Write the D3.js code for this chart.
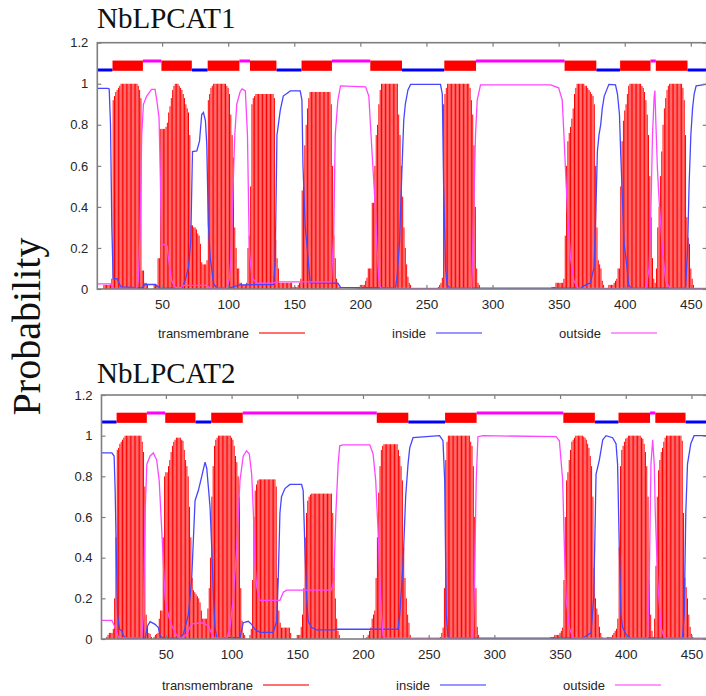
<!DOCTYPE html>
<html>
<head>
<meta charset="utf-8">
<script src="https://cdn.jsdelivr.net/npm/d3@7"></script>
<style>
  body { margin: 0; background: #fff; }
  svg { display: block; }
</style>
</head>
<body>
<svg id="chart" width="706" height="696"></svg>
<script>
// ---- TMHMM posterior probabilities for the two LPCAT proteins ----
const residueCount = 462;
const panelTitles = ["NbLPCAT1", "NbLPCAT2"];
const xTickValues = [50, 100, 150, 200, 250, 300, 350, 400, 450];
const yTickValues = [0, 0.2, 0.4, 0.6, 0.8, 1, 1.2];
const legendLabels = ["transmembrane", "inside", "outside"];
const axisLabel = "Probability";

// predicted topology: i = inside, M = transmembrane helix, o = outside
const topology1 = [["i",1,12],["M",13,35],["o",36,49],["M",50,72],["i",73,84],["M",85,108],
  ["o",109,116],["M",117,136],["i",137,155],["M",156,178],["o",179,207],["M",208,231],
  ["i",232,263],["M",264,287],["o",288,354],["M",355,378],["i",379,396],["M",397,419],
  ["o",420,423],["M",424,447],["i",448,462]];
const topology2 = [["i",1,12],["M",13,35],["o",36,49],["M",50,72],["i",73,84],["M",85,108],
  ["o",109,210],["M",211,234],["i",235,262],["M",263,286],["o",287,352],["M",353,376],
  ["i",377,394],["M",395,418],["o",419,422],["M",423,445],["i",446,462]];

// transmembrane probability per residue: [first residue, values...]
const tmProb1 = [
  [6, [0.02,0.02,0.02,0.02,0.02,0.02,0.05,0.92,0.94,0.96,0.97,0.98,0.99,1,1,1,1,1,1,1,1,1,1,1,1,1,0.99,0.97,0.93,0.09,0.09,0.03,0.03,0.02]],
  [44, [0.02,0.02,0.02,0.15,0.15,0.78,0.78,0.78,0.78,0.79,0.81,0.86,0.89,0.93,0.97,0.99,1,1,1,0.99,0.98,0.97,0.95,0.93,0.9,0.88,0.86,0.75,0.31,0.31,0.3,0.3,0.29,0.27,0.26,0.22,0.13,0.12,0.12,0.12]],
  [84, [0.14,0.92,0.95,0.98,0.99,1,1,1,1,1,1,1,1,1,1,0.99,0.98,0.95,0.85,0.75,0.64,0.3,0.2,0.1,0.1,0.03,0.03]],
  [111, [0.02,0.02,0.02,0.03,0.2,0.26,0.5,0.9,0.93,0.94,0.95,0.95,0.95,0.95,0.95,0.95,0.95,0.95,0.95,0.95,0.95,0.95,0.95,0.95,0.93,0.24,0.15,0.1,0.03,0.03]],
  [141, [0.03,0.03,0.03,0.03,0.03,0.03,0.03,0.03,0.01,0.01,0.01,0.01]],
  [153, [0.02,0.03,0.05,0.48,0.5,0.7,0.8,0.88,0.93,0.96,0.96,0.96,0.96,0.96,0.96,0.96,0.96,0.96,0.96,0.96,0.96,0.96,0.96,0.96,0.96,0.9,0.6,0.26,0.15,0.05,0.03,0.01]],
  [198, [0.01,0.01,0.02,0.02,0.02,0.02,0.04,0.055,0.1,0.1,0.1,0.42,0.42,0.6,0.75,0.8,0.9,0.97,1,1,1,1,1,1,1,1,1,1,1,1,1,0.85,0.75,0.6,0.45,0.3,0.2,0.12,0.06,0.03,0.02]],
  [259, [0.01,0.02,0.03,0.055,0.9,0.95,0.98,1,1,1,1,1,1,1,1,1,1,1,1,1,1,1,1,1,0.98,0.92,0.85,0.7,0.4,0.1,0.03,0.02]],
  [345, [0.01,0.01,0.01,0.03,0.03,0.03,0.03,0.03,0.03,0.05,0.26,0.6,0.72,0.76,0.79,0.83,0.88,0.95,0.98,1,1,1,1,1,1,0.99,0.99,0.98,0.97,0.96,0.95,0.94,0.9,0.6,0.3,0.14,0.12,0.1,0.04,0.02]],
  [388, [0.02,0.02,0.02,0.02,0.03,0.04,0.05,0.1,0.1,0.5,0.72,0.82,0.87,0.9,0.95,0.99,1,1,1,1,1,1,1,1,1,0.99,0.98,0.96,0.92,0.85,0.75,0.55,0.35,0.15,0.05]],
  [423, [0.03,0.1,0.3,0.4,0.55,0.67,0.8,0.88,0.93,0.97,0.99,1,1,1,1,1,1,1,1,1,1,0.98,0.92,0.75,0.35,0.25,0.22,0.1,0.05,0.02]]
];
const tmProb2 = [
  [5, [0.01,0.02,0.03,0.03,0.03,0.05,0.2,0.5,0.93,0.94,0.96,0.97,0.98,0.99,1,1,1,1,1,1,1,1,1,1,1,1,1,0.97,0.92,0.75,0.12,0.06,0.03,0.025,0.01]],
  [41, [0.01,0.02,0.025,0.03,0.1,0.14,0.14,0.5,0.8,0.82,0.82,0.85,0.88,0.92,0.95,0.97,0.98,0.99,0.99,0.99,0.99,0.98,0.975,0.93,0.88,0.85,0.8,0.65,0.5,0.3,0.24,0.23,0.22,0.21,0.2,0.18,0.14,0.1,0.1,0.1,0.1,0.15,0.25]],
  [84, [0.4,0.7,0.85,0.95,0.98,0.99,1,1,1,1,1,1,1,1,1,1,0.99,0.98,0.95,0.9,0.87,0.8,0.7,0.25,0.09,0.03,0.02]],
  [114, [0.02,0.05,0.29,0.6,0.73,0.76,0.78,0.785,0.785,0.785,0.785,0.785,0.785,0.785,0.785,0.785,0.785,0.785,0.785,0.785,0.75,0.3,0.14,0.08,0.056,0.056,0.056,0.056,0.056,0.056,0.056,0.03]],
  [150, [0.02,0.02,0.02,0.06,0.12,0.25,0.5,0.62,0.68,0.7,0.71,0.715,0.715,0.715,0.715,0.715,0.715,0.715,0.715,0.715,0.715,0.715,0.715,0.715,0.715,0.715,0.715,0.62,0.35,0.2,0.1,0.04,0.02]],
  [202, [0.005,0.01,0.02,0.04,0.056,0.1,0.12,0.14,0.3,0.5,0.72,0.85,0.93,0.95,0.958,0.958,0.958,0.958,0.958,0.958,0.958,0.958,0.958,0.958,0.958,0.93,0.9,0.85,0.78,0.45,0.3,0.2,0.12,0.08,0.02]],
  [258, [0.005,0.01,0.03,0.056,0.25,0.88,0.97,1,1,1,1,1,1,1,1,1,1,1,1,1,1,1,1,1,0.97,0.95,0.85,0.6,0.25,0.06,0.02]],
  [343, [0.01,0.01,0.01,0.02,0.02,0.02,0.02,0.03,0.04,0.056,0.29,0.6,0.78,0.82,0.88,0.93,0.97,0.98,0.99,1,1,1,1,1,1,0.995,0.99,0.98,0.96,0.94,0.9,0.85,0.7,0.35,0.2,0.15,0.12,0.06,0.03,0.01]],
  [386, [0.01,0.01,0.01,0.01,0.02,0.03,0.04,0.05,0.1,0.45,0.85,0.93,0.95,0.97,0.985,0.99,1,1,1,1,1,1,1,1,1,1,0.99,0.985,0.96,0.92,0.85,0.7,0.29,0.12,0.04,0.01]],
  [422, [0.1,0.36,0.7,0.83,0.88,0.92,0.94,0.97,0.99,1,1,1,1,1,1,1,1,1,1,1,1,0.975,0.62,0.3,0.255,0.2,0.12,0.06,0.025,0.01]]
];

// inside / outside probability profiles: [residue, probability]
const insideProb1 = [[1,0.977],[9,0.977],[10,0.975],[11,0.8],[12,0.3],[13,0.05],[16,0.05],[18.8,0.01],[34.6,0.005],[37,0.022],[45,0.022],[48.5,0.003],[65,0.005],[67.4,0.04],[70,0.106],[71.7,0.236],[73,0.67],[76.3,0.673],[78.3,0.72],[80,0.85],[81.3,0.86],[82.8,0.82],[83.8,0.705],[85,0.317],[86.4,0.155],[89,0.026],[91.4,0.004],[101.5,0.004],[104,0.012],[109,0.02],[134.3,0.022],[135.6,0.14],[136.9,0.75],[139.4,0.87],[141.7,0.94],[147,0.965],[154.5,0.965],[155.8,0.92],[156.6,0.6],[158.3,0.3],[160,0.187],[162,0.03],[183,0.028],[185,0.008],[200,0.006],[226.5,0.005],[227.7,0.055],[229.7,0.235],[231.5,0.59],[232.8,0.82],[234,0.9],[236,0.97],[238,0.997],[260.6,0.997],[262,0.95],[263,0.5],[264.5,0.1],[265.7,0.017],[268,0.005],[366.6,0.004],[369,0.015],[374,0.03],[376.8,0.105],[378,0.35],[379.3,0.67],[380.5,0.75],[381.8,0.8],[383,0.88],[384.5,0.94],[388,0.997],[393,0.995],[394.5,0.95],[396,0.85],[397,0.65],[398.3,0.43],[399.5,0.22],[401.5,0.12],[403,0.017],[405,0.004],[446,0.004],[447.5,0.187],[448.7,0.51],[450,0.75],[451.3,0.88],[452.5,0.95],[454,0.99],[462,0.997]];
const outsideProb1 = [[1,0.025],[11,0.025],[13,0.003],[30.8,0.003],[32,0.04],[33.3,0.26],[34.6,0.75],[35.9,0.9],[38.4,0.94],[42,0.973],[44.7,0.973],[46,0.92],[47.7,0.835],[48.5,0.6],[49.7,0.22],[53.8,0.21],[55,0.14],[57.3,0.04],[60,0.009],[63.6,0.005],[66,0.018],[84,0.018],[86.4,0.003],[99,0.003],[101,0.05],[102,0.15],[103,0.35],[104,0.55],[105,0.75],[106.5,0.9],[109,0.96],[110.5,0.975],[113,0.965],[114.6,0.75],[116,0.187],[118,0.055],[121.7,0.028],[134,0.03],[137,0.035],[178,0.035],[179.8,0.26],[181,0.75],[183,0.92],[185,0.99],[204,0.985],[206.4,0.94],[208.8,0.67],[211.3,0.4],[212.6,0.2],[213.9,0.05],[215,0.01],[216,0.003],[284,0.003],[284.6,0.1],[285.9,0.43],[287.1,0.75],[288.4,0.92],[290.9,0.995],[344,0.995],[350,0.98],[352.7,0.92],[354,0.75],[356.6,0.38],[359,0.15],[361.6,0.04],[364,0.01],[365,0.003],[416,0.003],[418.4,0.1],[419.7,0.35],[421,0.75],[422.2,0.93],[422.8,0.967],[423.5,0.82],[424.7,0.59],[426,0.43],[428.5,0.19],[431,0.04],[433.6,0.01],[435,0.003],[462,0.003]];
const insideProb2 = [[1,0.915],[8.9,0.915],[10.6,0.9],[11.4,0.73],[12.2,0.45],[13.2,0.12],[14.7,0.048],[16.5,0.04],[17.7,0.015],[20.3,0.004],[34.2,0.004],[36,0.064],[38,0.085],[41.8,0.072],[44.3,0.056],[45.6,0.015],[48.1,0.004],[60.8,0.004],[63.3,0.024],[67.1,0.12],[69.6,0.29],[72.2,0.68],[74.7,0.73],[77.3,0.8],[79.8,0.87],[81.1,0.84],[82.3,0.75],[83.6,0.65],[84.9,0.45],[86.2,0.2],[87.4,0.056],[88.7,0.007],[106.4,0.007],[108.9,0.08],[112.7,0.087],[115.3,0.072],[117.8,0.048],[121.6,0.033],[131.7,0.033],[134.3,0.087],[135.5,0.29],[136.8,0.62],[138,0.7],[140.6,0.74],[144.4,0.76],[153.3,0.76],[154.5,0.73],[155.8,0.45],[157.1,0.2],[158.3,0.087],[160.9,0.056],[164.6,0.045],[177.3,0.045],[179.8,0.048],[226.7,0.048],[228,0.12],[230.5,0.37],[232.5,0.7],[234.3,0.86],[235.6,0.94],[238.1,0.99],[258.3,1.0],[260.9,0.975],[262.2,0.78],[263.4,0.12],[264.7,0.01],[266,0.004],[367.3,0.004],[369.8,0.015],[373.6,0.03],[375.6,0.2],[376.6,0.53],[377.4,0.81],[379.9,0.88],[382.5,0.98],[385,1.0],[390,0.99],[392.6,0.96],[393.8,0.86],[395.1,0.45],[396.4,0.12],[397.6,0.056],[400.2,0.024],[402.7,0.004],[443.2,0.004],[444.5,0.12],[445.7,0.62],[447,0.86],[449.5,0.96],[452,1.0],[462,1.0]];
const outsideProb2 = [[1,0.092],[8.9,0.092],[11.4,0.056],[13.9,0.007],[31.6,0.004],[32.9,0.12],[34.2,0.62],[35.5,0.86],[38,0.9],[40.5,0.915],[43,0.88],[44.9,0.78],[46.9,0.53],[49.4,0.2],[50.7,0.15],[53.2,0.087],[57,0.03],[59.6,0.007],[63,0.005],[65.8,0.024],[69.6,0.075],[78.5,0.08],[82.3,0.064],[86.2,0.007],[96.3,0.004],[98.8,0.056],[101.3,0.2],[103.9,0.45],[106.4,0.78],[108.9,0.9],[111.4,0.925],[113.5,0.91],[115.3,0.81],[116.6,0.62],[117.8,0.37],[119.1,0.255],[121.6,0.19],[136.8,0.19],[139.4,0.23],[141.9,0.24],[176,0.24],[177.8,0.29],[179.4,0.62],[181.1,0.86],[182.3,0.95],[184.9,0.955],[205.2,0.955],[207.7,0.91],[209.7,0.78],[211.5,0.53],[212.8,0.29],[214.1,0.12],[215.3,0.015],[217,0.004],[283.7,0.004],[284.9,0.29],[286.2,0.78],[287.5,0.995],[291.3,1.0],[347,0.995],[349.5,0.975],[352,0.78],[353.3,0.45],[354.6,0.2],[357.1,0.056],[359.7,0.007],[361,0.004],[416.6,0.004],[417.9,0.29],[419.2,0.86],[420.5,0.98],[421.7,0.86],[422.5,0.62],[424.3,0.29],[426.8,0.056],[429.3,0.007],[431,0.004],[462,0.004]];

// ---- drawing ----
const svg = d3.select("#chart");
const colors = { tm: "#ff0000", inside: "#4646ff", outside: "#ff46ff",
                 insideBar: "#0000ff", outsideBar: "#ff00ff", frame: "#7f7f7f", text: "#262626" };

const panels = [
  { title: panelTitles[0], tm: tmProb1, inside: insideProb1, outside: outsideProb1, topo: topology1,
    left: 97.3, right: 706.7, bottom: 289, top: 42.7, titleBase: 28, legendY: 337.5, legendX: [259, 436, 611] },
  { title: panelTitles[1], tm: tmProb2, inside: insideProb2, outside: outsideProb2, topo: topology2,
    left: 101.5, right: 707.2, bottom: 639, top: 395, titleBase: 383, legendY: 689.5, legendX: [263, 440, 615] }
];

panels.forEach((pn, k) => {
  const x = d3.scaleLinear().domain([1, residueCount]).range([pn.left, pn.right]);
  const y = d3.scaleLinear().domain([0, 1.2]).range([pn.bottom, pn.top]);
  const g = svg.append("g");

  const clipId = "plot-clip-" + k;
  svg.append("defs").append("clipPath").attr("id", clipId)
    .append("rect").attr("x", pn.left).attr("y", pn.top)
    .attr("width", pn.right - pn.left).attr("height", pn.bottom - pn.top);
  const plot = g.append("g").attr("clip-path", `url(#${clipId})`);

  // transmembrane impulses, one per residue
  const bars = pn.tm.flatMap(([start, vals]) => vals.map((p, i) => ({ pos: start + i, p })));
  plot.append("g").selectAll("line").data(bars).join("line")
    .attr("x1", d => x(d.pos)).attr("x2", d => x(d.pos))
    .attr("y1", y(0)).attr("y2", d => y(d.p))
    .attr("stroke", colors.tm).attr("stroke-width", 1);

  const line = d3.line().x(d => x(d[0])).y(d => y(d[1]));
  plot.append("path").datum(pn.inside).attr("d", line)
    .attr("fill", "none").attr("stroke", colors.inside).attr("stroke-width", 1.3);
  plot.append("path").datum(pn.outside).attr("d", line)
    .attr("fill", "none").attr("stroke", colors.outside).attr("stroke-width", 1.3);

  // topology strip above the curves
  const strip = plot.append("g");
  strip.selectAll("line").data(pn.topo.filter(s => s[0] !== "M")).join("line")
    .attr("x1", d => x(d[1] - 0.5)).attr("x2", d => x(d[2] + 0.5))
    .attr("y1", d => y(d[0] === "i" ? 1.067 : 1.111))
    .attr("y2", d => y(d[0] === "i" ? 1.067 : 1.111))
    .attr("stroke", d => d[0] === "i" ? colors.insideBar : colors.outsideBar)
    .attr("stroke-width", 3);
  strip.selectAll("rect").data(pn.topo.filter(s => s[0] === "M")).join("rect")
    .attr("x", d => x(d[1] - 0.5)).attr("width", d => x(d[2] + 0.5) - x(d[1] - 0.5))
    .attr("y", y(1.113)).attr("height", y(1.063) - y(1.113))
    .attr("fill", colors.tm);

  // axes with inward ticks on all four sides
  const styleAxis = sel => {
    sel.select(".domain").remove();
    sel.selectAll(".tick line").attr("stroke", colors.frame).attr("stroke-width", 1.2);
    sel.selectAll(".tick text").attr("fill", colors.text)
      .attr("font-family", "Liberation Sans, Arial, sans-serif");
  };
  g.append("g").attr("transform", `translate(0,${pn.bottom})`)
    .call(d3.axisBottom(x).tickValues(xTickValues).tickSizeInner(-4).tickSizeOuter(0).tickPadding(10))
    .call(styleAxis).selectAll("text").attr("font-size", 13.5);
  g.append("g").attr("transform", `translate(0,${pn.top})`)
    .call(d3.axisTop(x).tickValues(xTickValues).tickSizeInner(-4).tickSizeOuter(0).tickFormat(""))
    .call(styleAxis);
  g.append("g").attr("transform", `translate(${pn.left},0)`)
    .call(d3.axisLeft(y).tickValues(yTickValues).tickSizeInner(-4).tickSizeOuter(0).tickPadding(9).tickFormat(d => String(d)))
    .call(styleAxis).selectAll("text").attr("font-size", 13);
  g.append("g").attr("transform", `translate(${pn.right},0)`)
    .call(d3.axisRight(y).tickValues(yTickValues).tickSizeInner(-4).tickSizeOuter(0).tickFormat(""))
    .call(styleAxis);

  g.append("rect").attr("x", pn.left).attr("y", pn.top)
    .attr("width", pn.right - pn.left).attr("height", pn.bottom - pn.top)
    .attr("fill", "none").attr("stroke", colors.frame).attr("stroke-width", 1.6);

  // title
  svg.append("text").attr("x", 97).attr("y", pn.titleBase)
    .attr("font-family", "Liberation Serif, Times New Roman, serif").attr("font-size", 29)
    .attr("fill", "#111").text(pn.title);

  // legend
  const legendColors = [colors.tm, colors.inside, colors.outside];
  legendLabels.forEach((lab, i) => {
    const lx = pn.legendX[i];
    svg.append("text").attr("x", lx - 10).attr("y", pn.legendY)
      .attr("text-anchor", "end").attr("font-family", "Liberation Sans, Arial, sans-serif")
      .attr("font-size", 13).attr("fill", colors.text).text(lab);
    svg.append("line").attr("x1", lx).attr("x2", lx + 46)
      .attr("y1", pn.legendY - 4.5).attr("y2", pn.legendY - 4.5)
      .attr("stroke", legendColors[i]).attr("stroke-width", 1.5).attr("stroke-opacity", 0.75);
  });
});

// shared y-axis title
svg.append("text").attr("transform", "translate(40,326.5) rotate(-90)")
  .attr("text-anchor", "middle").attr("font-family", "Liberation Serif, Times New Roman, serif")
  .attr("font-size", 40).attr("fill", "#111").text(axisLabel);
</script>
</body>
</html>
